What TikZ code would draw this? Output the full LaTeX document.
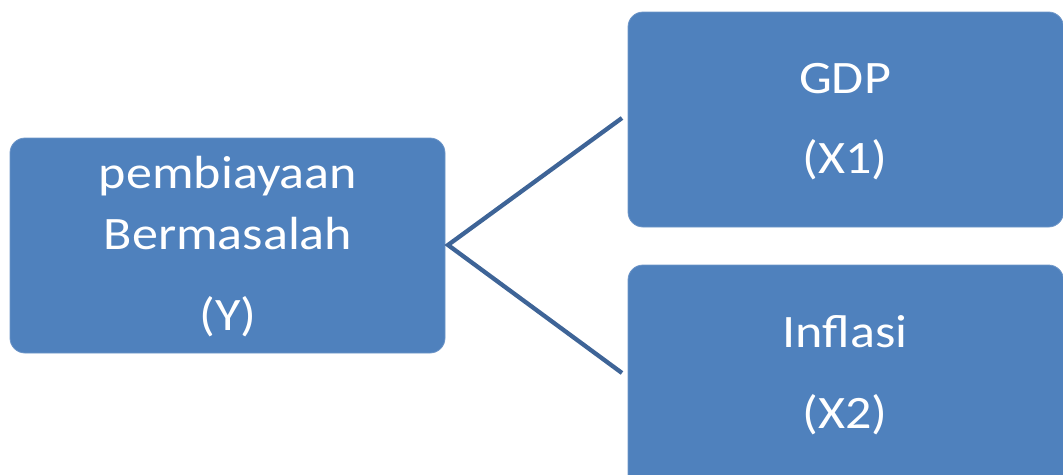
\documentclass[tikz,border=0pt]{standalone}
\usepackage{fontspec}
\setmainfont{Carlito}
\newfontfamily\widefont[FakeStretch=1.12]{Carlito}
\definecolor{boxblue}{RGB}{79,129,189}
\definecolor{boxedge}{RGB}{110,150,200}
\definecolor{linkblue}{RGB}{62,100,151}
\tikzset{
  box/.style={draw=boxedge, line width=0.8pt, fill=boxblue, rounded corners=15pt},
  lbl/.style={text=white, font=\widefont\fontsize{46.5}{50}\selectfont, anchor=base, inner sep=0pt},
  link/.style={draw=linkblue, line width=4.3pt}
}
\begin{document}
\begin{tikzpicture}[x=1pt,y=-1pt]
\useasboundingbox (0,0) rectangle (1063,474);
\begin{scope}
\clip (0,0) rectangle (1063,474);
\path[box] (10,138) rectangle (445,353) node[midway,inner sep=0pt] (L) {};
\path[box] (628,12) rectangle (1063.5,227) node[midway,inner sep=0pt] (T) {};
\path[box] (628,265) rectangle (1063.5,490) node[midway,inner sep=0pt] (B) {};
\end{scope}
\node[lbl] (l1) at (228,188) {pembiayaan};
\node[lbl] (l2) at (228,249) {Bermasalah};
\node[lbl] (l3) at (228,330) {(Y)};
\node[lbl] (t1) at (845,93) {GDP};
\node[lbl] (t2) at (845,173) {(X1)};
\node[lbl] (b1) at (845,347) {Inflasi};
\node[lbl] (b2) at (845,428) {(X2)};
\coordinate (v) at (448,245);
\coordinate (te) at (622,118);
\coordinate (be) at (622,373);
\draw[link] (te) -- (v) -- (be);
\end{tikzpicture}
\end{document}
